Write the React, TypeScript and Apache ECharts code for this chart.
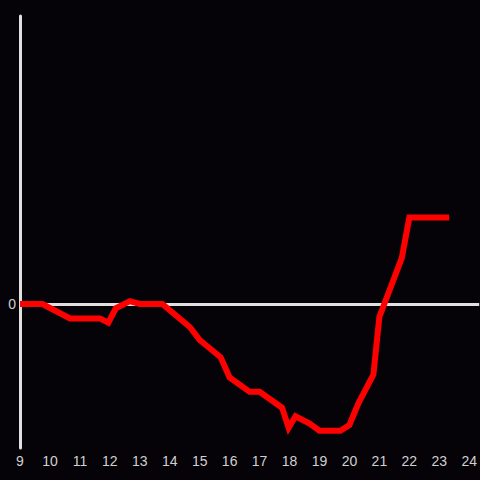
import React, { useEffect, useRef } from "react";
import * as echarts from "echarts";

const hours: number[] = [9, 9.75, 10.67, 11.67, 11.95, 12.2, 12.67, 13, 13.75, 14.67, 15, 15.7, 16, 16.67, 17, 17.75, 17.97, 18.2, 18.67, 19, 19.7, 20, 20.3, 20.8, 21, 21.75, 22, 23.33];
const values: number[] = [0, 0, -5, -5, -6.5, -1.5, 1, 0, 0, -8, -12.5, -18.5, -25.5, -30.5, -30.5, -36, -43, -39, -41.5, -44, -44, -42, -34.5, -24.5, -4.5, 16, 30, 30];
const yTickShown: number[] = [0];

export default function App() {
  const ref = useRef<HTMLDivElement>(null);
  useEffect(() => {
    if (!ref.current) return;
    const chart = echarts.init(ref.current, null, { renderer: "svg" });
    chart.setOption({
      animation: false,
      backgroundColor: "#050308",
      grid: { left: 20, right: 0, top: 16, bottom: 32 },
      xAxis: {
        type: "value",
        min: 9,
        max: 24.333,
        interval: 1,
        axisLine: { show: false },
        axisTick: { show: false },
        splitLine: { show: false },
        axisLabel: {
          color: "#d0d0d0",
          fontSize: 14,
          fontFamily: "Liberation Sans",
          margin: 6,
          showMaxLabel: false,
          formatter: (v: number) => (Number.isInteger(v) ? String(v) : ""),
        },
      },
      yAxis: {
        type: "value",
        min: -50,
        max: 100,
        interval: 50,
        axisLine: { show: true, onZero: false, lineStyle: { color: "#e0e0e0", width: 3 } },
        axisTick: { show: false },
        splitLine: { show: false },
        axisLabel: {
          color: "#d0d0d0",
          fontSize: 14,
          fontFamily: "Liberation Sans",
          margin: 4,
          formatter: (v: number) => (yTickShown.includes(v) ? String(v) : ""),
        },
      },
      series: [
        {
          type: "line",
          data: hours.map((h, i) => [h, values[i]]),
          symbol: "none",
          lineStyle: { color: "#ff0000", width: 6, join: "miter" },
          z: 3,
          markLine: {
            silent: true,
            symbol: "none",
            label: { show: false },
            lineStyle: { color: "#e0e0e0", width: 3, type: "solid" },
            data: [{ yAxis: 0 }],
            z: 2,
          },
        },
      ],
    });
    return () => chart.dispose();
  }, []);
  return <div ref={ref} style={{ width: 480, height: 480, position: "absolute", left: 0, top: 0 }} />;
}
